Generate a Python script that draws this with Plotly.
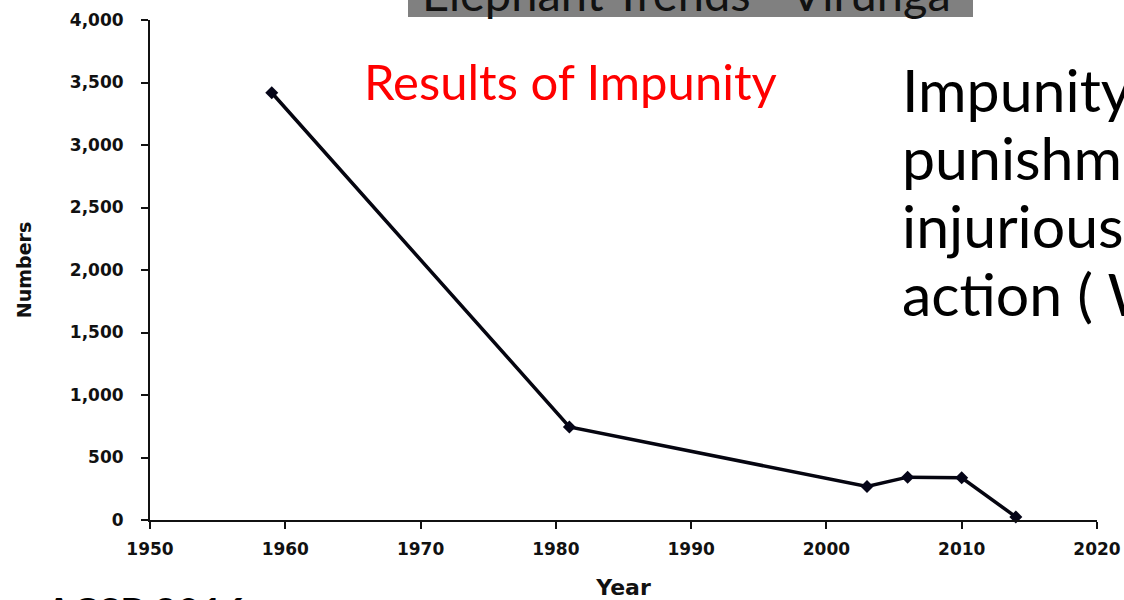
import plotly.graph_objects as go

years = [1959, 1981, 2003, 2006, 2010, 2014]
numbers = [3418, 745, 268, 343, 338, 25]

x_ticks = [1950, 1960, 1970, 1980, 1990, 2000, 2010, 2020]
y_ticks = [0, 500, 1000, 1500, 2000, 2500, 3000, 3500, 4000]

box_title = "Elephant Trends - Virunga"
red_title = "Results of Impunity"
side_lines = ["Impunity : exemption from", "punishment or freedom from the",
              "injurious consequences of an", "action ( Wikipedia)"]
footer = "ACSP 2016"

W, H = 1124, 600
PL, PR, PT, PB = 150, 1097, 20, 520  # plot area in page pixels
L, T, R, B = PL, PT, W - PR, H - PB
PW, PH = PR - PL, PB - PT


def px(x):
    return (x - PL) / PW


def py(y):
    return (PB - y) / PH


fig = go.Figure()
fig.add_trace(go.Scatter(
    x=years, y=numbers, mode="lines+markers",
    line=dict(color="#050510", width=3.5),
    marker=dict(symbol="diamond", size=10, color="#050518"),
    showlegend=False, cliponaxis=False,
))

tickfont = dict(family="DejaVu Sans", size=17, color="#111", weight="bold")

fig.update_layout(
    width=W, height=H,
    margin=dict(l=L, r=R, t=T, b=B, autoexpand=False),
    paper_bgcolor="white", plot_bgcolor="white",
    xaxis=dict(
        range=[1950, 2020], tickvals=x_ticks, showgrid=False, zeroline=False,
        showline=True, linecolor="#111", linewidth=2, automargin=False,
        ticks="outside", ticklen=7, tickwidth=2, tickcolor="#111",
        tickfont=tickfont, ticklabelstandoff=6,
        title=dict(text="Year", font=dict(family="DejaVu Sans", size=22, color="#111", weight="bold"), standoff=28),
    ),
    yaxis=dict(
        range=[0, 4000], tickvals=y_ticks, tickformat=",d", showgrid=False, zeroline=False,
        showline=True, linecolor="#111", linewidth=2, automargin=False,
        ticks="outside", ticklen=7, tickwidth=2, tickcolor="#111",
        tickfont=tickfont, ticklabelstandoff=14,
        title=dict(text="Numbers", font=dict(family="DejaVu Sans", size=19, color="#111", weight="bold"), standoff=33),
    ),
)

fig.add_shape(type="rect", xref="paper", yref="paper",
              x0=px(408), x1=px(973), y0=py(17), y1=py(-10),
              fillcolor="#808080", line=dict(width=0), layer="below")

fig.add_annotation(xref="paper", yref="paper", x=px(686), y=py(-7),
                   text=box_title, showarrow=False, xanchor="center", yanchor="middle",
                   font=dict(family="Lato", size=47, color="#111"))

fig.add_annotation(xref="paper", yref="paper", x=px(362), y=py(81),
                   text=red_title, showarrow=False, xanchor="left", yanchor="middle",
                   font=dict(family="Lato", size=49, color="#ff0000"))

for i, line in enumerate(side_lines):
    fig.add_annotation(xref="paper", yref="paper", x=px(900), y=py(89 + 68 * i),
                       text=line, showarrow=False, xanchor="left", yanchor="middle",
                       align="left", font=dict(family="Lato", size=59, color="#000"))

fig.add_annotation(xref="paper", yref="paper", x=px(42), y=py(586),
                   text=footer, showarrow=False, xanchor="left", yanchor="top",
                   font=dict(family="Lato", size=40, color="#000", weight="bold"))

fig.write_html("out.html", config={"displayModeBar": False},
               post_script="document.body.style.margin='0px';")
